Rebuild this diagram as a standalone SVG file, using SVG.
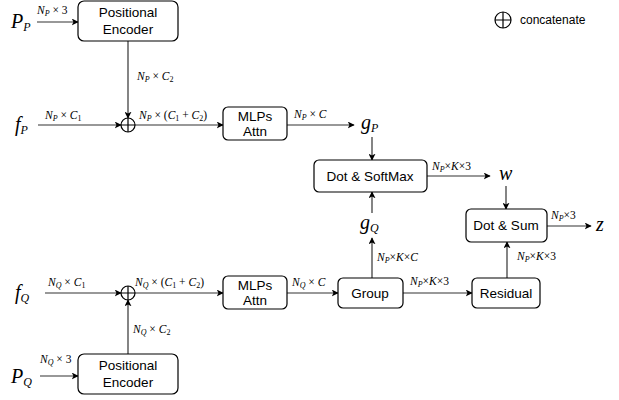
<svg xmlns="http://www.w3.org/2000/svg" width="619" height="400" viewBox="0 0 619 400">
<style>
.box{fill:#fff;stroke:#000;stroke-width:1.2}
.bt{font-family:"Liberation Sans",Arial,sans-serif;font-size:13.5px;text-anchor:middle;fill:#000}
.ln{fill:none;stroke:#333;stroke-width:1.2}
.m{font-family:"Liberation Serif","Times New Roman",serif;font-style:italic;font-size:11.5px;fill:#000}
.mu{font-style:normal}
.sb{font-size:8px}
.big{font-family:"Liberation Serif","Times New Roman",serif;font-style:italic;font-size:20px;fill:#000}
.bsb{font-size:12px}
.leg{font-family:"Liberation Sans",Arial,sans-serif;font-size:12px;fill:#000}
</style>
<defs>
<marker id="ah" viewBox="0 0 10 10" refX="9" refY="5" markerWidth="7" markerHeight="7" orient="auto" markerUnits="userSpaceOnUse"><path d="M0,0 L10,5 L0,10 L2.5,5 z" fill="#000"/></marker>
</defs>
<g id="connectors">
<line class="ln" x1="37" y1="22" x2="78" y2="22" marker-end="url(#ah)"/>
<line class="ln" x1="128" y1="41" x2="128" y2="118" marker-end="url(#ah)"/>
<line class="ln" x1="38" y1="125" x2="121" y2="125" marker-end="url(#ah)"/>
<line class="ln" x1="135" y1="125" x2="223" y2="125" marker-end="url(#ah)"/>
<line class="ln" x1="287" y1="125" x2="354" y2="125" marker-end="url(#ah)"/>
<line class="ln" x1="372" y1="137" x2="372" y2="160" marker-end="url(#ah)"/>
<line class="ln" x1="427" y1="176" x2="490" y2="176" marker-end="url(#ah)"/>
<line class="ln" x1="506" y1="186" x2="506" y2="209" marker-end="url(#ah)"/>
<line class="ln" x1="547" y1="226" x2="591" y2="226" marker-end="url(#ah)"/>
<line class="ln" x1="372" y1="213" x2="372" y2="192" marker-end="url(#ah)"/>
<line class="ln" x1="372" y1="278" x2="372" y2="238" marker-end="url(#ah)"/>
<line class="ln" x1="403" y1="293" x2="472" y2="293" marker-end="url(#ah)"/>
<line class="ln" x1="507" y1="278" x2="507" y2="242" marker-end="url(#ah)"/>
<line class="ln" x1="45" y1="293" x2="121" y2="293" marker-end="url(#ah)"/>
<line class="ln" x1="135" y1="293" x2="223" y2="293" marker-end="url(#ah)"/>
<line class="ln" x1="287" y1="293" x2="338" y2="293" marker-end="url(#ah)"/>
<line class="ln" x1="128" y1="354" x2="128" y2="300" marker-end="url(#ah)"/>
<line class="ln" x1="40" y1="376" x2="78" y2="376" marker-end="url(#ah)"/>
</g>
<g id="concat-p"><circle cx="128" cy="125" r="7" fill="#fff" stroke="#000" stroke-width="1.2"/><path d="M121,125 H135 M128,118 V132" stroke="#000" stroke-width="1.2"/></g>
<g id="concat-q"><circle cx="128" cy="293" r="7" fill="#fff" stroke="#000" stroke-width="1.2"/><path d="M121,293 H135 M128,286 V300" stroke="#000" stroke-width="1.2"/></g>
<g id="pe-p"><rect class="box" x="78" y="1" width="100" height="40" rx="6"/><text class="bt" x="128" y="17">Positional</text><text class="bt" x="128" y="34">Encoder</text></g>
<g id="mlp-p"><rect class="box" x="223" y="107" width="64" height="33" rx="5"/><text class="bt" x="255" y="121">MLPs</text><text class="bt" x="255" y="136">Attn</text></g>
<g id="dot-softmax"><rect class="box" x="314" y="160" width="113" height="32" rx="5"/><text class="bt" x="370" y="181">Dot &amp; SoftMax</text></g>
<g id="dot-sum"><rect class="box" x="466" y="209" width="81" height="33" rx="5"/><text class="bt" x="506" y="230">Dot &amp; Sum</text></g>
<g id="mlp-q"><rect class="box" x="223" y="276" width="64" height="33" rx="5"/><text class="bt" x="255" y="290">MLPs</text><text class="bt" x="255" y="305">Attn</text></g>
<g id="group"><rect class="box" x="338" y="278" width="65" height="30" rx="5"/><text class="bt" x="370" y="298">Group</text></g>
<g id="residual"><rect class="box" x="472" y="278" width="68" height="30" rx="5"/><text class="bt" x="506" y="298">Residual</text></g>
<g id="pe-q"><rect class="box" x="78" y="354" width="100" height="40" rx="6"/><text class="bt" x="128" y="370">Positional</text><text class="bt" x="128" y="387">Encoder</text></g>
<g id="legend"><circle cx="503" cy="20" r="8" fill="none" stroke="#000" stroke-width="1.2"/><path d="M495,20 H511 M503,12 V28" stroke="#000" stroke-width="1.2"/><text class="leg" x="520" y="24">concatenate</text></g>
<g id="labels">
<text class="big" x="11" y="28">P<tspan class="bsb" dy="3">P</tspan></text>
<text class="big" x="15" y="131">f<tspan class="bsb" dy="3">P</tspan></text>
<text class="big" x="361" y="129">g<tspan class="bsb" dy="3">P</tspan></text>
<text class="big" x="499" y="180">w</text>
<text class="big" x="596" y="231">z</text>
<text class="big" x="360" y="229">g<tspan class="bsb" dy="3">Q</tspan></text>
<text class="big" x="15" y="299">f<tspan class="bsb" dy="3">Q</tspan></text>
<text class="big" x="11" y="383">P<tspan class="bsb" dy="3">Q</tspan></text>
<text class="m" x="37" y="14">N<tspan class="sb" dy="2">P</tspan><tspan class="mu" dy="-2"> × 3</tspan></text>
<text class="m" x="137" y="80">N<tspan class="sb" dy="2">P</tspan><tspan class="mu" dy="-2"> × </tspan>C<tspan class="sb mu" dy="2">2</tspan></text>
<text class="m" x="45" y="119">N<tspan class="sb" dy="2">P</tspan><tspan class="mu" dy="-2"> × </tspan>C<tspan class="sb mu" dy="2">1</tspan></text>
<text class="m" x="139" y="119">N<tspan class="sb" dy="2">P</tspan><tspan class="mu" dy="-2"> × (</tspan>C<tspan class="sb mu" dy="2">1</tspan><tspan class="mu" dy="-2"> + </tspan>C<tspan class="sb mu" dy="2">2</tspan><tspan class="mu" dy="-2">)</tspan></text>
<text class="m" x="294" y="118">N<tspan class="sb" dy="2">P</tspan><tspan class="mu" dy="-2"> × </tspan>C</text>
<text class="m" x="432" y="170">N<tspan class="sb" dy="2">P</tspan><tspan class="mu" dy="-2">×</tspan>K<tspan class="mu">×3</tspan></text>
<text class="m" x="551" y="219">N<tspan class="sb" dy="2">P</tspan><tspan class="mu" dy="-2">×3</tspan></text>
<text class="m" x="377" y="261">N<tspan class="sb" dy="2">P</tspan><tspan class="mu" dy="-2">×</tspan>K<tspan class="mu">×</tspan>C</text>
<text class="m" x="517" y="260">N<tspan class="sb" dy="2">P</tspan><tspan class="mu" dy="-2">×</tspan>K<tspan class="mu">×3</tspan></text>
<text class="m" x="410" y="285">N<tspan class="sb" dy="2">P</tspan><tspan class="mu" dy="-2">×</tspan>K<tspan class="mu">×3</tspan></text>
<text class="m" x="48" y="286">N<tspan class="sb" dy="2">Q</tspan><tspan class="mu" dy="-2"> × </tspan>C<tspan class="sb mu" dy="2">1</tspan></text>
<text class="m" x="135" y="286">N<tspan class="sb" dy="2">Q</tspan><tspan class="mu" dy="-2"> ×  (</tspan>C<tspan class="sb mu" dy="2">1</tspan><tspan class="mu" dy="-2"> + </tspan>C<tspan class="sb mu" dy="2">2</tspan><tspan class="mu" dy="-2">)</tspan></text>
<text class="m" x="292" y="286">N<tspan class="sb" dy="2">Q</tspan><tspan class="mu" dy="-2"> × </tspan>C</text>
<text class="m" x="133" y="333">N<tspan class="sb" dy="2">Q</tspan><tspan class="mu" dy="-2"> × </tspan>C<tspan class="sb mu" dy="2">2</tspan></text>
<text class="m" x="40" y="363">N<tspan class="sb" dy="2">Q</tspan><tspan class="mu" dy="-2"> × 3</tspan></text>
</g>
</svg>
